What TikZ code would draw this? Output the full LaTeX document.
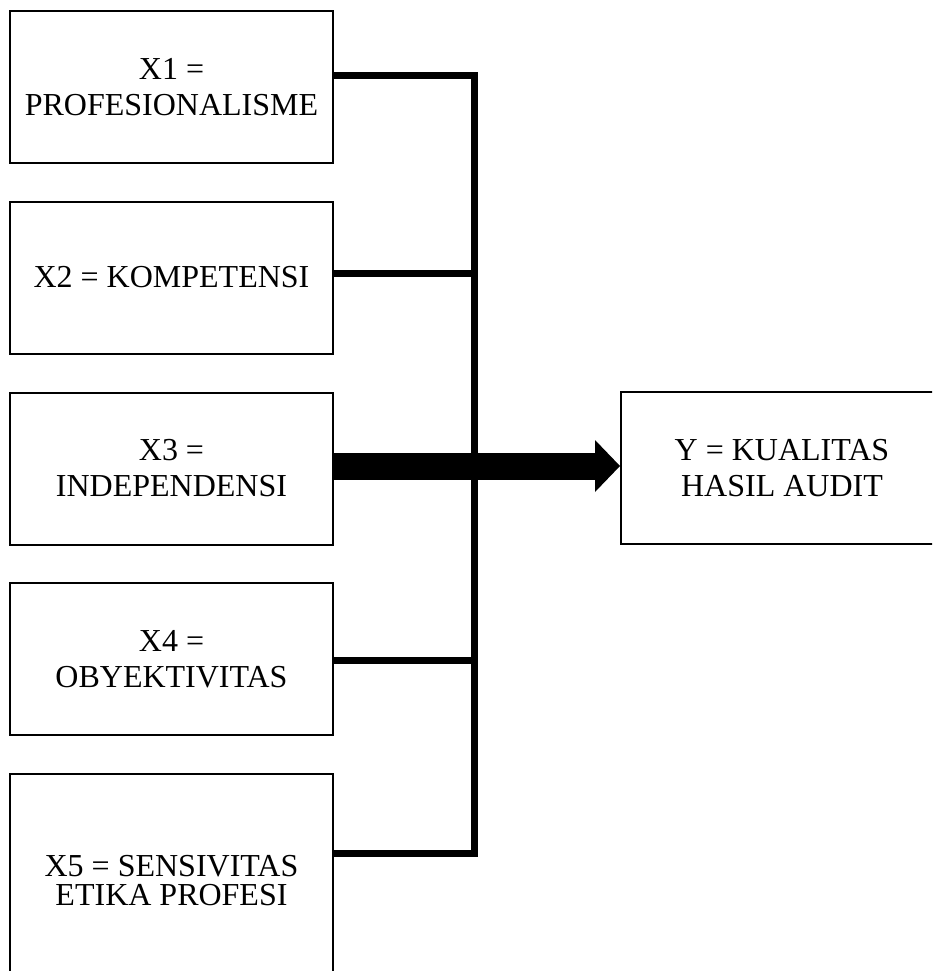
\documentclass[tikz,border=0pt]{standalone}
\usepackage{fontspec}
\setmainfont{Liberation Serif}
\usetikzlibrary{arrows.meta}
\begin{document}
\begin{tikzpicture}[x=1pt,y=-1pt,
  box/.style={draw, line width=2pt, minimum width=323pt, minimum height=152pt, align=center, inner sep=0pt, font=\fontsize{32}{36}\selectfont},
  conn/.style={line width=7pt, line join=miter}]
\useasboundingbox (0,0) rectangle (932,971);
\begin{scope}
\clip (0,0) rectangle (932,971);
\node[box] (b1) at (171.5,87) {X1 =\\PROFESIONALISME};
\node[box] (b2) at (171.5,277.5) {X2 = KOMPETENSI};
\node[box] (b3) at (171.5,468.5) {X3 =\\INDEPENDENSI};
\node[box] (b4) at (171.5,659) {X4 =\\OBYEKTIVITAS};
\node[box, minimum height=214pt, font=\fontsize{32}{29}\selectfont] (b5) at (171.5,881) {X5 = SENSIVITAS\\ETIKA PROFESI};
\node[box, minimum width=322pt] (y) at (782,468) {Y = KUALITAS\\HASIL AUDIT};
\coordinate (j1) at (474.5,76);
\coordinate (j2) at (474.5,273.5);
\coordinate (h3) at (474.5,466);
\coordinate (j4) at (474.5,660.5);
\coordinate (j5) at (474.5,853.5);
\draw[conn] (b1.east |- j1) -- (j1) -- (j5) -- (b5.east |- j5);
\draw[conn] (b2.east |- j2) -- (j2);
\draw[conn] (b4.east |- j4) -- (j4);
\draw[line width=27pt, -{Triangle[length=25pt, width=52pt, line width=0pt]}] (b3.east |- h3) -- (y.west |- h3);
\end{scope}
\end{tikzpicture}
\end{document}
